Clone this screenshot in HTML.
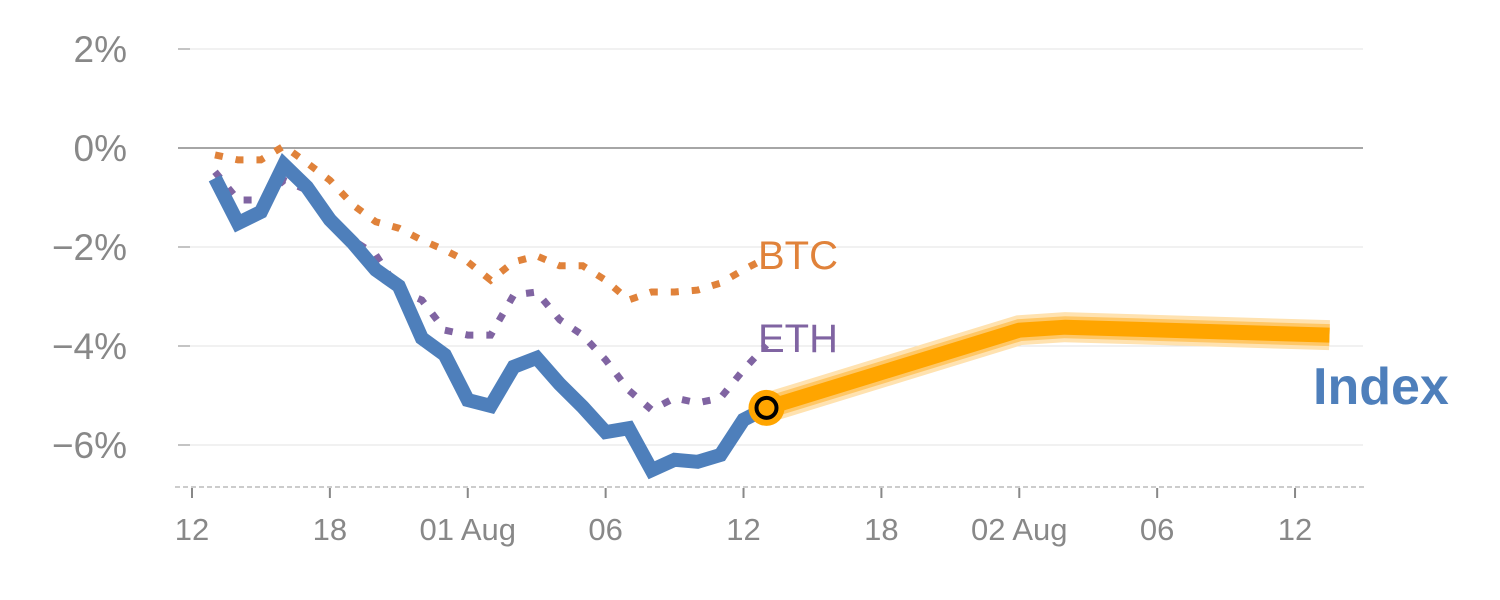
<!DOCTYPE html>
<html><head><meta charset="utf-8"><style>
html,body{margin:0;padding:0;background:#fff;}
svg{display:block;font-family:"Liberation Sans",Arial,sans-serif;}
</style></head><body>
<svg id="chart" width="1500" height="600" viewBox="0 0 1500 600">
<g id="grid"></g>
<g id="axes"></g>
<g id="series"></g>
<text x="758" y="269" font-size="40" fill="#e0823a">BTC</text>
<text x="758" y="352" font-size="40" fill="#8064a2">ETH</text>
<text x="1313" y="404" font-size="52" font-weight="bold" fill="#4e7fbb">Index</text>
</svg>
<script>
const days = [1,2,3,4,5,6,7,8,9,10,11,12,13,14,15,16,17,18,19,20,21,22,23,24,25];
const indexVals = [-0.61,-1.52,-1.29,-0.34,-0.79,-1.45,-1.92,-2.46,-2.79,-3.84,-4.18,-5.09,-5.21,-4.42,-4.24,-4.77,-5.23,-5.74,-5.66,-6.51,-6.30,-6.34,-6.20,-5.49,-5.25];
const btcVals = [-0.14,-0.24,-0.24,0.04,-0.30,-0.65,-1.15,-1.49,-1.62,-1.86,-2.06,-2.30,-2.67,-2.30,-2.18,-2.38,-2.38,-2.67,-3.07,-2.91,-2.91,-2.87,-2.73,-2.46,-2.22];
const ethVals = [-0.48,-1.05,-1.05,-0.65,-0.85,-1.35,-1.86,-2.16,-2.87,-3.07,-3.68,-3.78,-3.78,-2.97,-2.91,-3.47,-3.78,-4.28,-4.89,-5.29,-5.05,-5.15,-5.05,-4.48,-3.98];
const forecastDays = [25,36,38,49.5];
const forecastVals = [-5.25,-3.68,-3.62,-3.78];
const yTicks = [2,0,-2,-4,-6];
const yTickLabels = ["2%","0%","\u22122%","\u22124%","\u22126%"];
const xTicks = [0,6,12,18,24,30,36,42,48];
const xTickLabels = ["12","18","01 Aug","06","12","18","02 Aug","06","12"];

const NS="http://www.w3.org/2000/svg";
const X = d => 192 + d*22.98;
const Y = v => 148 - v*49.5;
function el(tag, attrs, parent){const e=document.createElementNS(NS,tag);for(const k in attrs)e.setAttribute(k,attrs[k]);parent.appendChild(e);return e;}
const grid=document.getElementById('grid'), axes=document.getElementById('axes'), series=document.getElementById('series');

yTicks.forEach((t,i)=>{
  const g=el('line',{x1:178,x2:1363,y1:Y(t),y2:Y(t),stroke:t===0?'#888':'#e3e3e3','stroke-width':t===0?1.5:1},grid);
  
  
  const tk=el('line',{x1:178,x2:190,y1:Y(t),y2:Y(t),stroke:'#888','stroke-width':1},axes);
  
  
  const lb=el('text',{x:127,y:Y(t)+13,'text-anchor':'end','font-size':37,fill:'#888'},axes);
  lb.textContent=yTickLabels[i];
  
  
});
const base=el('line',{x1:175,x2:1365,y1:487,y2:487,stroke:'#ccc','stroke-width':2,'stroke-dasharray':'5 3'},axes);


xTicks.forEach((d,i)=>{
  const tk=el('line',{x1:X(d),x2:X(d),y1:488,y2:498,stroke:'#888','stroke-width':2},axes);
  
  
  const lb=el('text',{x:X(d),y:540,'text-anchor':'middle','font-size':31,fill:'#888'},axes);
  lb.textContent=xTickLabels[i];
  
  
});
function pts(ds,vs){return ds.map((d,i)=>X(d).toFixed(1)+','+Y(vs[i]).toFixed(1)).join(' ');}
const btc=el('polyline',{points:pts(days,btcVals),fill:'none',stroke:'#e0823a','stroke-width':7,'stroke-dasharray':'8 13'},series);


const eth=el('polyline',{points:pts(days,ethVals),fill:'none',stroke:'#8064a2','stroke-width':7,'stroke-dasharray':'8 13'},series);


const idx=el('polyline',{points:pts(days,indexVals),fill:'none',stroke:'#4e7fbb','stroke-width':14,'stroke-linejoin':'miter'},series);


[[30,'#ffe2b0'],[22,'#ffc766'],[15,'#ffa500']].forEach(([w,c])=>{
  const f=el('polyline',{points:pts(forecastDays,forecastVals),fill:'none',stroke:c,'stroke-width':w},series);
  
  
});
const lastD=days[days.length-1], lastV=indexVals[indexVals.length-1];
const c1=el('circle',{cx:X(lastD),cy:Y(lastV),r:18,fill:'#ffa500'},series);


const c2=el('circle',{cx:X(lastD),cy:Y(lastV),r:10,fill:'none',stroke:'#000','stroke-width':4},series);


</script>
</body></html>
